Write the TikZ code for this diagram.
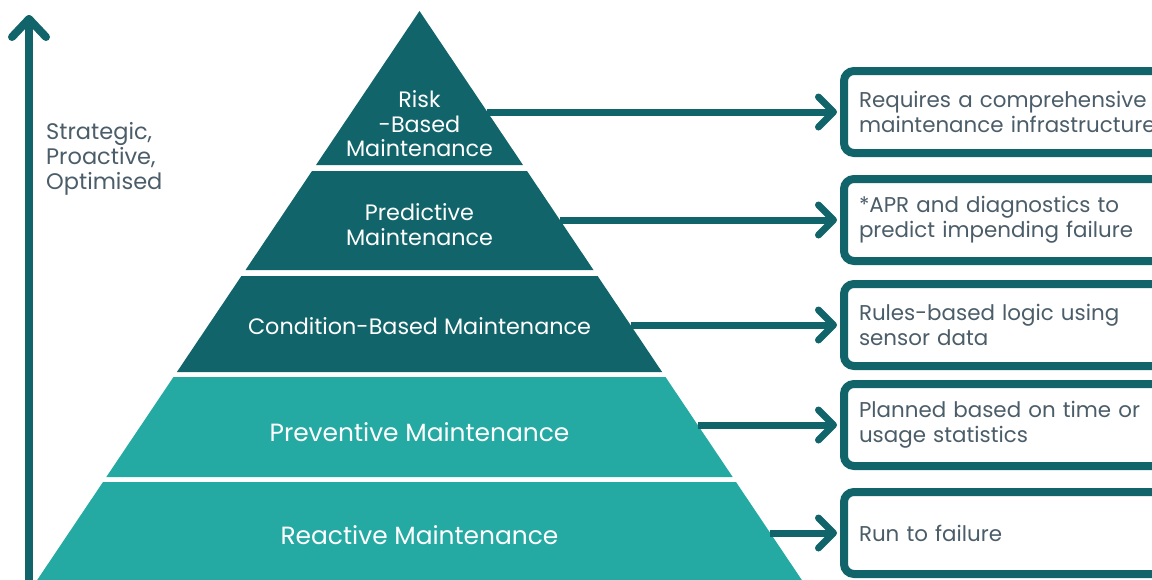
\documentclass[tikz,border=0pt]{standalone}
\usepackage{fontspec}
\setmainfont{Poppins}
\usetikzlibrary{arrows.meta,calc}
\definecolor{darkteal}{HTML}{11656A}
\definecolor{lightteal}{HTML}{25AAA3}
\definecolor{greytext}{HTML}{4B5D69}
\begin{document}
\begin{tikzpicture}[x=1pt,y=-1pt,
  layerdark/.style={fill=darkteal,draw=none},
  layerlight/.style={fill=lightteal,draw=none},
  lbl/.style={text=white,align=center,inner sep=0pt,font=\fontsize{22.3}{24.5}\selectfont},
  lblbig/.style={text=white,align=center,inner sep=0pt,font=\fontsize{24.9}{26}\selectfont},
  infobox/.style={draw=darkteal,line width=8pt,rounded corners=10pt,fill=white,
    text=greytext,align=left,text width=310pt,inner xsep=15pt,inner ysep=0pt,
    minimum height=82pt,anchor=west,font=\fontsize{21.4}{25}\selectfont},
  conn/.style={draw=darkteal,line width=7pt,
    -{Straight Barb[length=15pt,width=30pt,round]},shorten >=3pt},
  axisline/.style={draw=darkteal,line width=8pt,line cap=round,line join=round}
]
\useasboundingbox (0,0) rectangle (1152,579);
\clip (0,0) rectangle (1152,579);

% pyramid layers
\path[layerdark] (419.5,11) -- (523,165) -- (316,165) -- cycle;
\path[layerdark] (312,171) -- (527,171) -- (593.5,270) -- (245.5,270) -- cycle;
\path[layerdark] (241.4,276) -- (597.6,276) -- (662.1,372) -- (176.9,372) -- cycle;
\path[layerlight] (173.5,377) -- (665.5,377) -- (732.7,477) -- (106.3,477) -- cycle;
\path[layerlight] (103,482) -- (736,482) -- (805.2,585) -- (33.8,585) -- cycle;

% layer labels
\node[lbl] (t1) at (419.5,124) {Risk\\-Based\\Maintenance};
\node[lbl] (t2) at (419.5,224.5) {Predictive\\Maintenance};
\node[lbl] (t3) at (419.5,326) {Condition-Based Maintenance};
\node[lblbig] (t4) at (419.5,432) {Preventive Maintenance};
\node[lblbig] (t5) at (419.5,535) {Reactive Maintenance};

% edge points
\coordinate (e1) at (486.7,112);
\coordinate (e2) at (560,220);
\coordinate (e3) at (630.5,325);
\coordinate (e4) at (697.7,425);
\coordinate (e5) at (770.3,533);

% boxes
\node[infobox] (b1) at (840,112) {Requires a comprehensive\\maintenance infrastructure};
\node[infobox] (b2) at (840,220) {*APR and diagnostics to\\predict impending failure};
\node[infobox] (b3) at (840,325) {Rules-based logic using\\sensor data};
\node[infobox] (b4) at (840,425) {Planned based on time or\\usage statistics};
\node[infobox] (b5) at (840,533) {Run to failure};

% connectors
\draw[conn] (e1) -- (b1.west);
\draw[conn] (e2) -- (b2.west);
\draw[conn] (e3) -- (b3.west);
\draw[conn] (e4) -- (b4.west);
\draw[conn] (e5) -- (b5.west);

% vertical axis
\coordinate (a0) at (29,600);
\coordinate (a1) at (29,19);
\coordinate (al) at (12,37);
\coordinate (ar) at (46,37);
\draw[axisline] (a0) -- (a1);
\draw[axisline] (al) -- (a1) -- (ar);
\node[text=greytext,align=left,anchor=west,inner sep=0pt,
  font=\fontsize{22.5}{25}\selectfont] (lab) at (46,159) {Strategic,\\Proactive,\\Optimised};
\end{tikzpicture}
\end{document}
